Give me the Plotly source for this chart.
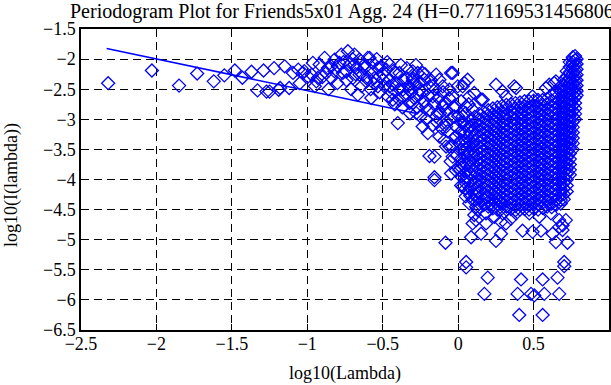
import plotly.graph_objects as go

# ---------------- data ----------------
# sparse low-frequency points: log10(lambda), log10(I(lambda))
low_x = [-2.32, -2.03, -1.85, -1.73, -1.62, -1.55, -1.48, -1.43, -1.37, -1.33,
         -1.29, -1.25, -1.22, -1.18, -1.15, -1.12, -1.095, -1.06, -1.05, -1.02,
         -0.995, -1.029, -0.97, -0.94, -0.918, -0.885, -0.863, -0.841, -0.819, -0.797,
         -0.775, -0.764, -0.731, -0.72, -0.698, -0.687, -0.675, -0.654, -0.632, -0.621,
         -0.599, -0.576, -0.566, -0.554, -0.665, -0.532, -1.27, -1.19]
low_y = [-2.40, -2.19, -2.44, -2.24, -2.37, -2.27, -2.19, -2.31, -2.21, -2.52,
         -2.19, -2.54, -2.15, -2.48, -2.12, -2.48, -2.23, -2.175, -2.40, -2.20,
         -2.29, -2.23, -2.26, -2.37, -2.09, -1.98, -2.147, -2.313, -2.008, -2.12,
         -1.925, -2.23, -1.87, -2.09, -2.313, -1.925, -2.147, -2.008, -2.258, -2.09,
         -1.98, -2.203, -2.063, -2.313, -2.59, -2.147, -2.54, -2.51]

# mid-frequency scattered points
mid_x = [-0.963, -0.93, -0.874, -0.841, -0.786, -0.742, -0.687, -0.654, -0.609, -0.587,
         -0.576, -0.532, -0.51, -0.499, -0.466, -0.455, -0.433, -0.411, -0.40, -0.389,
         -0.367, -0.344, -0.323, -0.301, -0.29, -0.278, -0.268, -0.256, -0.235, -0.223,
         -0.212, -0.201, -0.19, -0.168, -0.157, -0.146, -0.135, -0.124, -0.102, -0.091,
         -0.08, -0.047, -0.058, -0.036, -0.025, -0.003, 0.008, 0.041, 0.053, 0.063,
         0.251, 0.384, 0.582, 0.637, 0.152, 0.317, 0.493, -0.19, -0.157, -0.058,
         -0.08, -0.036, 0.008, 0.030, 0.096, 0.119, -0.08, -0.014, 0.053, 0.074,
         -0.014, -0.146, -0.102, -0.014, 0.03, 0.074, 0.096, 0.107, 0.03, 0.063,
         -0.301, -0.367, -0.433, -0.455, -0.521, -0.477, -0.389, -0.301, -0.235, -0.168,
         -0.124, -0.256, -0.323, -0.036, 0.372, 0.604, 0.648, 0.295, 0.163, 0.074,
         -0.157, -0.047]
mid_y = [-2.063, -2.313, -2.23, -2.12, -2.063, -2.203, -2.09, -2.258, -2.37, -1.98,
         -2.647, -2.453, -2.12, -2.342, -2.62, -2.092, -2.425, -2.23, -3.063, -2.675,
         -2.508, -2.313, -2.73, -2.203, -2.425, -2.897, -2.23, -2.59, -3.12, -2.342,
         -2.787, -3.23, -2.453, -2.62, -3.62, -2.258, -2.897, -3.287, -2.453, -2.73,
         -3.063, -2.23, -3.453, -2.62, -2.953, -2.453, -3.23, -2.397, -2.787, -3.563,
         -2.425, -2.48, -2.48, -2.397, -2.675, -2.62, -2.62, -3.61, -3.963, -2.508,
         -3.453, -3.62, -3.842, -4.12, -4.342, -4.453, -3.12, -3.12, -3.397, -3.675,
         -3.287, -2.953, -2.787, -2.787, -2.953, -3.12, -2.842, -2.563, -2.453, -2.342,
         -2.73, -2.62, -2.675, -2.453, -2.287, -2.175, -2.23, -2.313, -2.23, -2.453,
         -2.342, -2.508, -2.508, -2.23, -2.453, -2.425, -2.37, -2.537, -2.675, -2.62,
         -4.01, -3.90]

# the crowded band between log10(lambda) = -1 and 0
band_x = [-0.95, -0.9, -0.86, -0.82, -0.8, -0.76, -0.74, -0.71, -0.7, -0.68,
          -0.64, -0.62, -0.6, -0.58, -0.56, -0.54, -0.52, -0.5, -0.49, -0.47,
          -0.46, -0.44, -0.43, -0.42, -0.41, -0.39, -0.38, -0.37, -0.36, -0.35,
          -0.34, -0.33, -0.32, -0.31, -0.3, -0.29, -0.28, -0.27, -0.26, -0.25,
          -0.24, -0.23, -0.22, -0.21, -0.2, -0.19, -0.18, -0.17, -0.16, -0.15,
          -0.14, -0.13, -0.12, -0.11, -0.1, -0.09, -0.08, -0.07, -0.06, -0.05,
          -0.04, -0.03, -0.02, -0.01, 0.0, 0.01, 0.02, 0.025, 0.035, 0.04,
          0.05, 0.055, 0.06, 0.065, 0.07, -0.015, -0.05, 0.045]
band_y = [-2.45, -2.3, -2.5, -2.2, -2.4, -2.05, -2.35, -2.5, -2.0, -2.25,
          -2.45, -2.15, -2.3, -2.5, -2.4, -2.0, -2.55, -2.25, -2.45, -2.05,
          -2.35, -2.55, -2.2, -2.75, -2.4, -2.5, -2.1, -2.8, -2.35, -2.6,
          -2.15, -2.45, -2.9, -2.55, -2.35, -2.65, -2.1, -2.8, -2.4, -2.95,
          -2.55, -2.7, -2.25, -3.0, -2.6, -2.85, -2.35, -3.1, -2.75, -2.5,
          -3.05, -2.65, -2.9, -3.15, -2.55, -3.35, -2.85, -3.2, -2.65, -3.0,
          -3.45, -2.8, -3.3, -3.6, -2.95, -3.4, -2.7, -3.75, -3.05, -3.55,
          -2.9, -3.95, -3.3, -4.2, -2.75, -3.85, -3.7, -4.05]

# high-frequency outliers below the dense cloud
out_x = [-0.084, 0.053, 0.053, 0.196, 0.174, 0.417, 0.394, 0.483, 0.505, 0.56,
         0.571, 0.659, 0.670, 0.405, 0.56, 0.703, 0.703, 0.086, 0.152, 0.251,
         0.284, 0.427, 0.493, 0.549, 0.648, 0.725, 0.626, 0.692, 0.119, 0.185,
         0.284, 0.35, 0.67, 0.692, 0.107, 0.074, 0.129, 0.096, 0.185, 0.24,
         0.295, 0.317, 0.384, 0.472, 0.538, 0.615, 0.670, 0.714, 0.273, 0.185]
out_y = [-5.05, -5.37, -5.46, -5.63, -5.90, -5.66, -5.90, -5.90, -5.925, -5.66,
         -5.90, -5.63, -5.90, -6.25, -6.25, -5.37, -5.44, -4.96, -4.90, -5.02,
         -4.90, -4.85, -4.87, -4.85, -5.04, -5.05, -4.90, -4.84, -4.675, -4.56,
         -4.70, -4.65, -4.675, -4.76, -4.59, -4.397, -4.508, -4.73, -4.73, -4.62,
         -4.563, -4.73, -4.563, -4.563, -4.62, -4.563, -4.787, -4.675, -4.342, -4.287]

# dense high-frequency cloud, column by column
core_x = [0.02, 0.05, 0.08, 0.11, 0.14, 0.17, 0.20, 0.23, 0.26, 0.29, 0.32, 0.35,
          0.38, 0.41, 0.44, 0.47, 0.50, 0.53, 0.56, 0.59, 0.62, 0.65,
          0.68, 0.70, 0.72, 0.74, 0.76, 0.775, 0.785]
core_y = [
    [-3.05, -3.2, -3.35, -3.5, -3.65, -3.8, -3.95, -4.1],
    [-3.1, -3.22, -3.36, -3.48, -3.62, -3.75, -3.88, -4.0, -4.15, -4.28],
    [-3.01, -3.13, -3.22, -3.36, -3.44, -3.57, -3.69, -3.78, -3.91, -4.02, -4.14, -4.27],
    [-2.96, -3.05, -3.17, -3.26, -3.37, -3.45, -3.56, -3.64, -3.75, -3.86, -3.95, -4.05, -4.16, -4.25, -4.34],
    [-2.91, -3.0, -3.1, -3.19, -3.29, -3.38, -3.47, -3.57, -3.66, -3.75, -3.84, -3.93, -4.03, -4.12, -4.22, -4.31, -4.4],
    [-2.88, -2.97, -3.06, -3.15, -3.24, -3.33, -3.42, -3.51, -3.6, -3.69, -3.78, -3.87, -3.96, -4.05, -4.14, -4.23, -4.33, -4.42],
    [-2.85, -2.93, -3.03, -3.11, -3.2, -3.29, -3.39, -3.47, -3.56, -3.65, -3.74, -3.83, -3.92, -4.01, -4.1, -4.19, -4.28, -4.37, -4.45],
    [-2.82, -2.91, -3.0, -3.09, -3.18, -3.27, -3.35, -3.44, -3.54, -3.62, -3.71, -3.8, -3.89, -3.98, -4.07, -4.16, -4.25, -4.34, -4.42, -4.48],
    [-2.8, -2.89, -2.97, -3.06, -3.15, -3.24, -3.33, -3.42, -3.51, -3.6, -3.69, -3.78, -3.87, -3.96, -4.05, -4.14, -4.23, -4.32, -4.41, -4.5],
    [-2.78, -2.87, -2.96, -3.05, -3.13, -3.22, -3.31, -3.4, -3.49, -3.58, -3.67, -3.76, -3.85, -3.94, -4.03, -4.12, -4.21, -4.3, -4.39, -4.48],
    [-2.76, -2.83, -2.92, -3.01, -3.1, -3.19, -3.28, -3.37, -3.46, -3.55, -3.64, -3.73, -3.82, -3.91, -4.0, -4.09, -4.18, -4.27, -4.36, -4.45, -4.5],
    [-2.75, -2.86, -2.95, -3.04, -3.14, -3.23, -3.32, -3.41, -3.5, -3.59, -3.68, -3.77, -3.86, -3.95, -4.04, -4.13, -4.22, -4.31, -4.4, -4.49],
    [-2.73, -2.82, -2.91, -3.0, -3.09, -3.18, -3.27, -3.36, -3.45, -3.54, -3.63, -3.72, -3.81, -3.9, -3.99, -4.08, -4.17, -4.26, -4.35, -4.44, -4.51],
    [-2.72, -2.8, -2.9, -2.99, -3.08, -3.16, -3.25, -3.34, -3.43, -3.52, -3.61, -3.7, -3.79, -3.88, -3.97, -4.06, -4.15, -4.24, -4.33, -4.42, -4.5],
    [-2.7, -2.78, -2.87, -2.96, -3.05, -3.14, -3.23, -3.32, -3.41, -3.5, -3.59, -3.68, -3.77, -3.86, -3.95, -4.04, -4.13, -4.22, -4.31, -4.4, -4.49],
    [-2.7, -2.81, -2.9, -2.99, -3.08, -3.17, -3.26, -3.35, -3.44, -3.53, -3.62, -3.71, -3.8, -3.89, -3.98, -4.07, -4.16, -4.25, -4.34, -4.43, -4.5],
    [-2.69, -2.77, -2.86, -2.95, -3.04, -3.13, -3.22, -3.31, -3.4, -3.49, -3.58, -3.67, -3.76, -3.85, -3.94, -4.03, -4.12, -4.21, -4.3, -4.39, -4.48],
    [-2.68, -2.79, -2.88, -2.97, -3.06, -3.15, -3.24, -3.33, -3.42, -3.51, -3.6, -3.69, -3.78, -3.87, -3.96, -4.05, -4.14, -4.23, -4.32, -4.41, -4.5],
    [-2.68, -2.76, -2.85, -2.94, -3.03, -3.12, -3.21, -3.3, -3.39, -3.48, -3.57, -3.66, -3.75, -3.84, -3.93, -4.02, -4.11, -4.2, -4.29, -4.38, -4.47],
    [-2.66, -2.74, -2.83, -2.92, -3.01, -3.1, -3.19, -3.28, -3.37, -3.46, -3.55, -3.64, -3.73, -3.82, -3.91, -4.0, -4.09, -4.18, -4.27, -4.36, -4.45],
    [-2.6, -2.69, -2.78, -2.87, -2.96, -3.05, -3.14, -3.23, -3.32, -3.41, -3.5, -3.59, -3.68, -3.77, -3.86, -3.95, -4.04, -4.13, -4.22, -4.31, -4.4, -4.46],
    [-2.55, -2.64, -2.73, -2.82, -2.91, -3.0, -3.09, -3.18, -3.27, -3.36, -3.45, -3.54, -3.63, -3.72, -3.81, -3.9, -3.99, -4.08, -4.17, -4.26, -4.35, -4.42],
    [-2.45, -2.54, -2.63, -2.72, -2.81, -2.9, -2.99, -3.08, -3.17, -3.26, -3.35, -3.44, -3.53, -3.62, -3.71, -3.8, -3.89, -3.98, -4.07, -4.16, -4.25, -4.34, -4.4],
    [-2.35, -2.44, -2.53, -2.62, -2.71, -2.8, -2.89, -2.98, -3.07, -3.16, -3.25, -3.34, -3.43, -3.52, -3.61, -3.7, -3.79, -3.88, -3.97, -4.06, -4.15, -4.24, -4.33],
    [-2.2, -2.29, -2.38, -2.47, -2.56, -2.65, -2.74, -2.83, -2.92, -3.01, -3.1, -3.19, -3.28, -3.37, -3.46, -3.55, -3.64, -3.73, -3.82, -3.91, -4.0, -4.1, -4.2],
    [-2.05, -2.13, -2.22, -2.31, -2.4, -2.49, -2.58, -2.67, -2.76, -2.85, -2.94, -3.03, -3.12, -3.21, -3.3, -3.39, -3.48, -3.57, -3.66, -3.75, -3.84, -3.92],
    [-1.97, -2.05, -2.14, -2.23, -2.32, -2.41, -2.5, -2.59, -2.68, -2.77, -2.86, -2.95, -3.04, -3.13, -3.22, -3.31, -3.4, -3.5],
    [-1.95, -2.02, -2.1, -2.19, -2.28, -2.37, -2.46, -2.55, -2.64, -2.73, -2.82, -2.91, -3.0],
    [-2.0, -2.08, -2.17, -2.26, -2.35, -2.44, -2.53, -2.6],
]

# least-squares fit line over the low frequencies
fit_x = [-2.33, -0.268]
fit_y = [-1.825, -2.908]

title_text = "Periodogram Plot for Friends5x01 Agg. 24 (H=0.771169531456806)"
x_title = "log10(Lambda)"
y_title = "log10(I(lambda))"

# ---------------- build ----------------
pts_x = low_x + mid_x + band_x + out_x
pts_y = low_y + mid_y + band_y + out_y
for cx, ys in zip(core_x, core_y):
    pts_x += [cx] * len(ys)
    pts_y += ys

FONT = "Liberation Serif"
FS = 18
BLUE = "#0000ff"

fig = go.Figure()
fig.add_trace(go.Scatter(
    x=pts_x, y=pts_y, mode="markers",
    marker=dict(symbol="diamond-open", size=10, color=BLUE,
                line=dict(width=1.3, color=BLUE)),
    showlegend=False, hoverinfo="skip"))
fig.add_trace(go.Scatter(
    x=fit_x, y=fit_y, mode="lines",
    line=dict(color=BLUE, width=1.6),
    showlegend=False, hoverinfo="skip"))

axis_common = dict(
    showline=True, linecolor="black", linewidth=1.5, mirror="allticks",
    ticks="inside", ticklen=6, tickwidth=1.2, tickcolor="black",
    showgrid=True, gridcolor="black", gridwidth=1, griddash="8px,5px",
    zeroline=False, tickfont=dict(family=FONT, size=FS, color="black"),
)

fig.update_xaxes(range=[-2.5, 1], dtick=0.5, tick0=-2.5, ticklabelstandoff=-3,
                 **axis_common)
fig.update_yaxes(range=[-6.5, -1.5], dtick=0.5, tick0=-6.5, **axis_common)

fig.update_layout(
    width=611, height=385,
    margin=dict(l=81, r=2, t=29, b=55, autoexpand=False),
    paper_bgcolor="white", plot_bgcolor="white",
    font=dict(family=FONT, size=FS, color="black"),
    title=dict(text=title_text, xref="container", x=70 / 611, xanchor="left",
               yref="container", y=1 - 11 / 385, yanchor="middle",
               font=dict(family=FONT, size=20, color="black")),
    annotations=[
        dict(text=x_title, xref="paper", yref="paper", x=0.5, y=-43 / 301,
             xanchor="center", yanchor="middle", showarrow=False,
             font=dict(family=FONT, size=FS, color="black")),
        dict(text=y_title, xref="paper", yref="paper", x=-70 / 528, y=(330 - 185) / 301,
             xanchor="center", yanchor="middle", showarrow=False, textangle=-90,
             font=dict(family=FONT, size=FS, color="black")),
    ],
)

fig.write_html("out.html", config={"displayModeBar": False},
               post_script="document.body.style.margin='0';")
